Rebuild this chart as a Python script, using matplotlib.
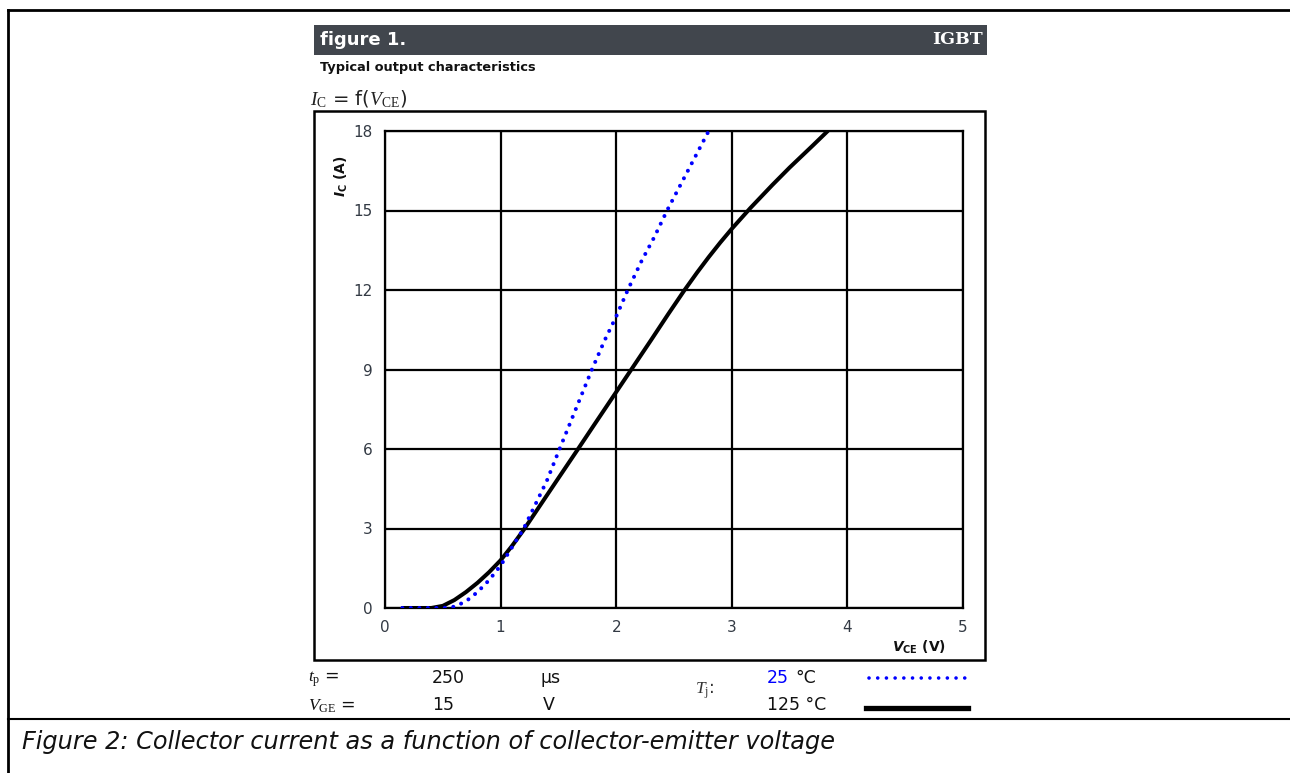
import numpy as np
from matplotlib import pyplot as plt, rcParams
from matplotlib.lines import Line2D
from matplotlib.patches import Rectangle

rcParams.update({
    'font.family': 'DejaVu Sans',
    'mathtext.fontset': 'custom',
    'mathtext.rm': 'Liberation Serif',
    'mathtext.it': 'Liberation Serif:italic',
    'mathtext.bf': 'DejaVu Sans:bold',
    'mathtext.bfit': 'DejaVu Sans:italic:bold',
})

# data
vce_25 = [0.15, 0.3, 0.5, 0.6, 0.7, 0.8, 0.9, 1.0, 1.1, 1.2, 1.3, 1.4, 1.51,
          1.65, 1.79, 1.9, 2.0, 2.1, 2.22, 2.33, 2.44, 2.56, 2.68, 2.8]
ic_25 = [0.0, 0.0, 0.0, 0.05, 0.25, 0.6, 1.05, 1.6, 2.3, 3.0, 3.9, 4.8, 6.0,
         7.5, 9.0, 10.1, 11.0, 12.0, 13.1, 14.0, 15.0, 16.0, 17.0, 18.0]
vce_125 = [0.15, 0.3, 0.4, 0.5, 0.6, 0.7, 0.8, 0.9, 1.0, 1.1, 1.2, 1.3, 1.4,
           1.5, 1.67, 1.8, 2.0, 2.1, 2.3, 2.45, 2.59, 2.7, 2.8, 2.9, 3.0, 3.16,
           3.35, 3.5, 3.7, 3.83]
ic_125 = [0.0, 0.0, 0.0, 0.08, 0.3, 0.6, 0.95, 1.35, 1.8, 2.35, 2.95, 3.6, 4.25,
          4.9, 6.0, 6.85, 8.15, 8.8, 10.1, 11.09, 11.99, 12.66, 13.24, 13.79, 14.31, 15.09,
          15.96, 16.62, 17.45, 18.0]
xticks = [0, 1, 2, 3, 4, 5]
yticks = [0, 3, 6, 9, 12, 15, 18]

W, H = 1290, 773
fig = plt.figure(figsize=(W / 100, H / 100), dpi=100)


def fx(px):
    return px / W


def fy(py):
    return 1 - py / H


def hline(x0, x1, y, lw=2.0, color='black'):
    fig.add_artist(Line2D([fx(x0), fx(x1)], [fy(y), fy(y)], lw=lw, color=color,
                          transform=fig.transFigure))


def vline(x, y0, y1, lw=2.0, color='black'):
    fig.add_artist(Line2D([fx(x), fx(x)], [fy(y0), fy(y1)], lw=lw, color=color,
                          transform=fig.transFigure))


# page frame
hline(8, W, 10)
vline(8, 10, H)
hline(8, W, 719, lw=1.5)

# header bar
fig.add_artist(Rectangle((fx(314), fy(55)), fx(987) - fx(314), fy(25) - fy(55),
                         facecolor='#41464d', edgecolor='none', transform=fig.transFigure))
fig.text(fx(320), fy(40), "figure 1.", color='white', fontsize=13, fontweight='bold',
         va='center', ha='left')
fig.text(fx(983), fy(40), "IGBT", color='white', fontsize=12.5, fontweight='bold',
         family='DejaVu Serif', va='center', ha='right')
fig.text(fx(320), fy(68), "Typical output characteristics", fontsize=9.3, fontweight='bold',
         va='center', ha='left', color='#111111')
fig.text(fx(310), fy(99), r"$\mathit{I}_{\mathrm{C}}$ = f($\mathit{V}_{\mathrm{CE}}$)",
         fontsize=14, va='center', ha='left', color='#222222')

# chart box
fig.add_artist(Rectangle((fx(314), fy(660)), fx(985) - fx(314), fy(111) - fy(660),
                         facecolor='none', edgecolor='black', lw=1.8, transform=fig.transFigure))

ax = fig.add_axes([fx(385), fy(608), fx(963) - fx(385), fy(131) - fy(608)])
ax.plot(vce_125, ic_125, color='black', lw=2.9, solid_capstyle='round', zorder=3)
ax.plot(vce_25, ic_25, color='blue', lw=2.9, linestyle=(0, (0.01, 2.1)),
        dash_capstyle='round', zorder=4)
ax.set_xlim(0, 5)
ax.set_ylim(0, 18)
ax.set_xticks(xticks)
ax.set_yticks(yticks)
ax.grid(True, color='black', lw=1.6)
ax.set_axisbelow(True)
ax.tick_params(length=0, labelsize=11, labelcolor='#333a44', pad=9)
for s in ax.spines.values():
    s.set_linewidth(1.6)

fig.text(fx(341), fy(176), r"$\mathbfit{I}_{\mathbf{C}}$ (A)", rotation=90, fontsize=10,
         fontweight='bold', va='center', ha='center', color='#111111')
fig.text(fx(946), fy(647), r"$\mathbfit{V}_{\mathbf{CE}}$ (V)", fontsize=10,
         fontweight='bold', va='center', ha='right', color='#111111')

# conditions / legend rows
fs = 12.5
fig.text(fx(308), fy(679), r"$\mathit{t}_{\mathrm{p}}$ =", fontsize=fs, va='center', color='#111111')
fig.text(fx(308), fy(706), r"$\mathit{V}_{\mathrm{GE}}$ =", fontsize=fs, va='center', color='#111111')
fig.text(fx(432), fy(678), "250", fontsize=fs, va='center', color='#111111')
fig.text(fx(432), fy(705), "15", fontsize=fs, va='center', color='#111111')
fig.text(fx(540), fy(678), "µs", fontsize=fs, va='center', color='#111111')
fig.text(fx(543), fy(705), "V", fontsize=fs, va='center', color='#111111')
fig.text(fx(695), fy(691), r"$\mathit{T}_{\mathrm{j}}$:", fontsize=fs, va='center', color='#333333')
fig.text(fx(767), fy(678), "25", fontsize=fs, va='center', color='blue')
fig.text(fx(795), fy(678), "°C", fontsize=fs, va='center', color='#111111')
fig.text(fx(767), fy(705), "125 °C", fontsize=fs, va='center', color='#111111')
fig.add_artist(Line2D([fx(869), fx(966)], [fy(678), fy(678)], color='blue', lw=2.6,
                      linestyle=(0, (0.01, 2.4)), dash_capstyle='round',
                      transform=fig.transFigure))
hline(866, 968, 708, lw=3.8)

fig.text(fx(22), fy(742), "Figure 2: Collector current as a function of collector-emitter voltage",
         fontsize=17.3, style='italic', va='center', ha='left', color='#111111')

fig.savefig('out.png', dpi=100)
